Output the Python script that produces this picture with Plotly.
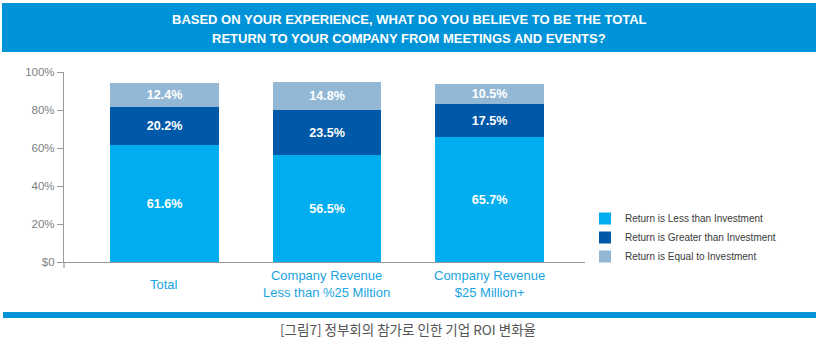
import plotly.graph_objects as go

# Survey results: total return from meetings and events, by company revenue
categories = ["Total", "Company Revenue<br>Less than %25 Miltion", "Company Revenue<br>$25 Million+"]
less_than = [61.6, 56.5, 65.7]
greater_than = [20.2, 23.5, 17.5]
equal_to = [12.4, 14.8, 10.5]
series_names = [
    "Return is Less than Investment",
    "Return is Greater than Investment",
    "Return is Equal to Investment",
]
y_ticks = [0, 20, 40, 60, 80, 100]
y_tick_labels = ["$0", "20%", "40%", "60%", "80%", "100%"]

title_lines = [
    "BASED ON YOUR EXPERIENCE, WHAT DO YOU BELIEVE TO BE THE TOTAL",
    "RETURN TO YOUR COMPANY FROM MEETINGS AND EVENTS?",
]
caption = "[그림7] 정부회의 참가로 인한 기업 ROI 변화율"

W, H = 819, 348
SANS = "Liberation Sans, Arial, sans-serif"
BANNER_BLUE = "#0093D8"
colors = ["#00AEEF", "#0058A8", "#93B8D5"]

x_idx = list(range(len(categories)))

fig = go.Figure()
for name, vals, col in zip(series_names, [less_than, greater_than, equal_to], colors):
    fig.add_trace(go.Bar(
        x=x_idx, y=vals, name=name,
        marker=dict(color=col, line=dict(width=0)),
        width=0.67,
        text=[f"{v:.1f}%" for v in vals],
        textposition="inside",
        insidetextanchor="middle",
        textangle=0,
        textfont=dict(family=SANS, size=13.5, color="white", weight="bold"),
        hoverinfo="skip",
    ))

# plot area in pixels
L, R, T, B = 64, 585, 72, 262


def px_x(p):
    return (p - L) / (R - L)


def px_y(p):
    return (B - p) / (B - T)


shapes = [
    # header banner
    dict(type="rect", xref="paper", yref="paper",
         x0=px_x(2), x1=px_x(816), y0=px_y(52), y1=px_y(3),
         fillcolor=BANNER_BLUE, line=dict(width=0), layer="below"),
    # footer rule
    dict(type="rect", xref="paper", yref="paper",
         x0=px_x(3), x1=px_x(816), y0=px_y(318), y1=px_y(312),
         fillcolor=BANNER_BLUE, line=dict(width=0), layer="below"),
    # y-axis stub below the baseline
    dict(type="line", xref="paper", yref="paper",
         x0=0, x1=0, y0=px_y(268), y1=0,
         line=dict(color="#9A9A9A", width=1.2)),
]

annotations = []
for i, line in enumerate(title_lines):
    annotations.append(dict(
        text=line, xref="paper", yref="paper",
        x=px_x(409), y=px_y(19 + i * 19), xanchor="center", yanchor="middle",
        showarrow=False,
        font=dict(family=SANS, size=13, color="white", weight="bold"),
    ))
for i, cat in enumerate(categories):
    annotations.append(dict(
        text=cat, xref="x", yref="paper",
        x=i, y=px_y(284), xanchor="center", yanchor="middle",
        showarrow=False,
        font=dict(family=SANS, size=13, color="#1AA4E2"),
    ))
annotations.append(dict(
    text=caption, xref="paper", yref="paper",
    x=px_x(408), y=px_y(329), xanchor="center", yanchor="middle",
    showarrow=False,
    font=dict(family="Noto Sans CJK KR", size=13.5, color="#555555"),
))

fig.update_layout(
    width=W, height=H,
    margin=dict(l=L, r=W - R, t=T, b=H - B, pad=0, autoexpand=False),
    paper_bgcolor="white", plot_bgcolor="white",
    barmode="stack",
    bargap=0,
    showlegend=True,
    legend=dict(
        xref="container", yref="container",
        x=585 / W, y=1 - 204 / H, xanchor="left", yanchor="top",
        traceorder="normal",
        font=dict(family=SANS, size=10, color="#3A3A3A"),
        tracegroupgap=0, itemwidth=30,
        bgcolor="rgba(0,0,0,0)",
    ),
    xaxis=dict(
        range=[-0.618, 2.588], showticklabels=False, ticks="",
        showgrid=False, zeroline=False,
        showline=True, linecolor="#9A9A9A", linewidth=1.2,
        fixedrange=True,
    ),
    yaxis=dict(
        range=[0, 100], tickvals=y_ticks, ticktext=y_tick_labels,
        ticks="outside", ticklen=6, tickcolor="#9A9A9A", tickwidth=1,
        showgrid=False, zeroline=False,
        showline=True, linecolor="#9A9A9A", linewidth=1.2,
        tickfont=dict(family=SANS, size=11.5, color="#808080"),
        fixedrange=True,
    ),
    shapes=shapes,
    annotations=annotations,
    uniformtext=dict(minsize=8, mode="show"),
)

fig.write_html("out.html", config={"displayModeBar": False})
